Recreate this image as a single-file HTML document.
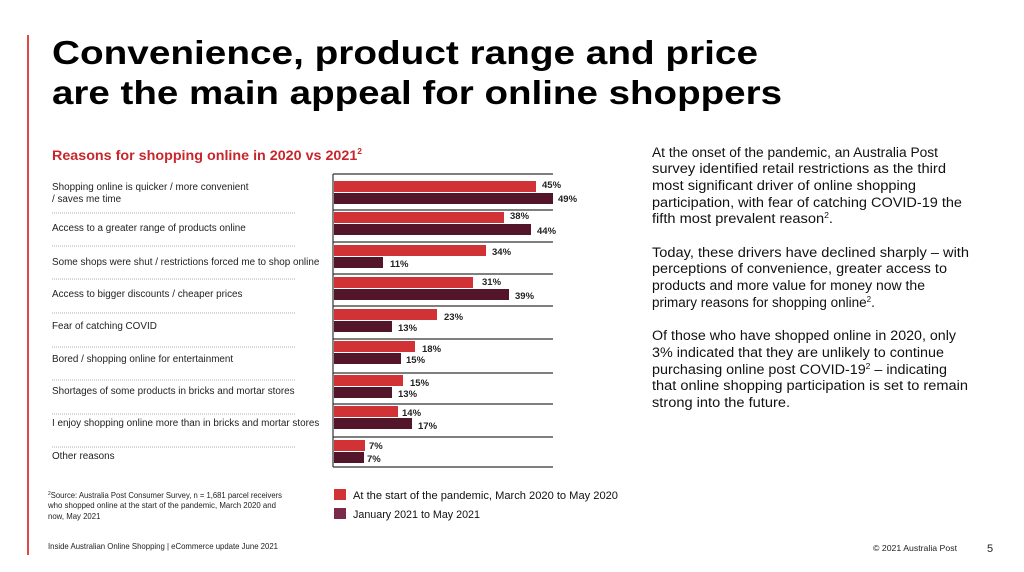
<!DOCTYPE html>
<html><head><meta charset="utf-8"><style>
html,body{margin:0;padding:0;background:#fff;}
svg{display:block;font-family:"Liberation Sans",sans-serif;}
</style></head><body>
<svg width="1024" height="572" viewBox="0 0 1024 572" xmlns="http://www.w3.org/2000/svg">
<rect x="27" y="35" width="2" height="520" fill="#e04848"/>
<text x="52" y="64" font-size="33" font-weight="bold" fill="#000" textLength="706" lengthAdjust="spacingAndGlyphs">Convenience, product range and price</text>
<text x="52" y="104" font-size="33" font-weight="bold" fill="#000" textLength="730" lengthAdjust="spacingAndGlyphs">are the main appeal for online shoppers</text>
<text x="52" y="160" font-size="13.5" font-weight="bold" fill="#c8262c" textLength="310" lengthAdjust="spacingAndGlyphs">Reasons for shopping online in 2020 vs 2021<tspan font-size="8" dy="-6">2</tspan></text>

<g font-size="9.9" fill="#222">
<text x="52" y="190">Shopping online is quicker / more convenient</text>
<text x="52" y="202">/ saves me time</text>
<text x="52" y="231">Access to a greater range of products online</text>
<text x="52" y="265">Some shops were shut / restrictions forced me to shop online</text>
<text x="52" y="297">Access to bigger discounts / cheaper prices</text>
<text x="52" y="329">Fear of catching COVID</text>
<text x="52" y="362">Bored / shopping online for entertainment</text>
<text x="52" y="394">Shortages of some products in bricks and mortar stores</text>
<text x="52" y="426">I enjoy shopping online more than in bricks and mortar stores</text>
<text x="52" y="459">Other reasons</text>
</g>
<g stroke="#999" stroke-width="0.8" stroke-dasharray="1,1">
<line x1="52" y1="213" x2="296" y2="213"/><line x1="52" y1="246" x2="296" y2="246"/>
<line x1="52" y1="279" x2="296" y2="279"/><line x1="52" y1="313" x2="296" y2="313"/>
<line x1="52" y1="347" x2="296" y2="347"/><line x1="52" y1="380" x2="296" y2="380"/>
<line x1="52" y1="414" x2="296" y2="414"/><line x1="52" y1="447" x2="296" y2="447"/>
</g>

<g stroke="#333" stroke-width="1.2">
<line x1="333" y1="174" x2="553" y2="174"/><line x1="333" y1="210" x2="553" y2="210"/>
<line x1="333" y1="242" x2="553" y2="242"/><line x1="333" y1="274" x2="553" y2="274"/>
<line x1="333" y1="306" x2="553" y2="306"/><line x1="333" y1="339" x2="553" y2="339"/>
<line x1="333" y1="373" x2="553" y2="373"/><line x1="333" y1="404" x2="553" y2="404"/>
<line x1="333" y1="437" x2="553" y2="437"/><line x1="333" y1="467" x2="553" y2="467"/>
<line x1="333" y1="174" x2="333" y2="467"/>
</g>
<g font-size="9.5" font-weight="bold" fill="#222">
<rect x="334" y="181" width="202" height="11" fill="#d13236"/><rect x="334" y="193" width="219" height="11" fill="#52152a"/>
<text x="542" y="188">45%</text><text x="558" y="202">49%</text>
<rect x="334" y="212" width="170" height="11" fill="#d13236"/><rect x="334" y="224" width="197" height="11" fill="#52152a"/>
<text x="510" y="219">38%</text><text x="537" y="234">44%</text>
<rect x="334" y="245" width="152" height="11" fill="#d13236"/><rect x="334" y="257" width="49" height="11" fill="#52152a"/>
<text x="492" y="255">34%</text><text x="390" y="267">11%</text>
<rect x="334" y="277" width="139" height="11" fill="#d13236"/><rect x="334" y="289" width="175" height="11" fill="#52152a"/>
<text x="482" y="285">31%</text><text x="515" y="299">39%</text>
<rect x="334" y="309" width="103" height="11" fill="#d13236"/><rect x="334" y="321" width="58" height="11" fill="#52152a"/>
<text x="444" y="320">23%</text><text x="398" y="331">13%</text>
<rect x="334" y="341" width="81" height="11" fill="#d13236"/><rect x="334" y="353" width="67" height="11" fill="#52152a"/>
<text x="422" y="352">18%</text><text x="406" y="363">15%</text>
<rect x="334" y="375" width="69" height="11" fill="#d13236"/><rect x="334" y="387" width="58" height="11" fill="#52152a"/>
<text x="410" y="386">15%</text><text x="398" y="397">13%</text>
<rect x="334" y="406" width="64" height="11" fill="#d13236"/><rect x="334" y="418" width="78" height="11" fill="#52152a"/>
<text x="402" y="416">14%</text><text x="418" y="429">17%</text>
<rect x="334" y="440" width="31" height="11" fill="#d13236"/><rect x="334" y="452" width="30" height="11" fill="#52152a"/>
<text x="369" y="449">7%</text><text x="367" y="462">7%</text>
</g>

<g font-size="13.5" fill="#111">
<text x="652" y="157" textLength="286" lengthAdjust="spacingAndGlyphs">At the onset of the pandemic, an Australia Post</text>
<text x="652" y="173" textLength="294" lengthAdjust="spacingAndGlyphs">survey identified retail restrictions as the third</text>
<text x="652" y="190" textLength="264" lengthAdjust="spacingAndGlyphs">most significant driver of online shopping</text>
<text x="652" y="207" textLength="310" lengthAdjust="spacingAndGlyphs">participation, with fear of catching COVID-19 the</text>
<text x="652" y="223" textLength="181" lengthAdjust="spacingAndGlyphs">fifth most prevalent reason<tspan font-size="8" dy="-5">2</tspan><tspan dy="5">.</tspan></text>
<text x="652" y="257" textLength="317" lengthAdjust="spacingAndGlyphs">Today, these drivers have declined sharply – with</text>
<text x="652" y="273" textLength="295" lengthAdjust="spacingAndGlyphs">perceptions of convenience, greater access to</text>
<text x="652" y="290" textLength="273" lengthAdjust="spacingAndGlyphs">products and more value for money now the</text>
<text x="652" y="307">primary reasons for shopping online<tspan font-size="8" dy="-5">2</tspan><tspan dy="5">.</tspan></text>
<text x="652" y="340" textLength="304" lengthAdjust="spacingAndGlyphs">Of those who have shopped online in 2020, only</text>
<text x="652" y="357" textLength="292" lengthAdjust="spacingAndGlyphs">3% indicated that they are unlikely to continue</text>
<text x="652" y="374" textLength="295" lengthAdjust="spacingAndGlyphs">purchasing online post COVID-19<tspan font-size="8" dy="-5">2</tspan><tspan dy="5"> – indicating</tspan></text>
<text x="652" y="390" textLength="316" lengthAdjust="spacingAndGlyphs">that online shopping participation is set to remain</text>
<text x="652" y="407" textLength="138" lengthAdjust="spacingAndGlyphs">strong into the future.</text>
</g>

<g font-size="7.8" fill="#222">
<text x="48" y="498" textLength="234" lengthAdjust="spacingAndGlyphs"><tspan font-size="5" dy="-3">2</tspan><tspan dy="3">Source: Australia Post Consumer Survey, n = 1,681 parcel receivers</tspan></text>
<text x="48" y="508" textLength="228" lengthAdjust="spacingAndGlyphs">who shopped online at the start of the pandemic, March 2020 and</text>
<text x="48" y="519">now, May 2021</text>
<text x="48" y="549" font-size="8.5" textLength="230" lengthAdjust="spacingAndGlyphs">Inside Australian Online Shopping | eCommerce update June 2021</text>
<text x="873" y="551" font-size="8.5" textLength="84" lengthAdjust="spacingAndGlyphs">© 2021 Australia Post</text>
<text x="987" y="552" font-size="11">5</text>
</g>
<rect x="334" y="489" width="12" height="11" fill="#d13236"/>
<rect x="334" y="508" width="12" height="11" fill="#7b2a4a"/>
<text x="353" y="499" font-size="11" fill="#111" textLength="265" lengthAdjust="spacingAndGlyphs">At the start of the pandemic, March 2020 to May 2020</text>
<text x="353" y="518" font-size="11" fill="#111" textLength="127" lengthAdjust="spacingAndGlyphs">January 2021 to May 2021</text>
</svg>
</body></html>
